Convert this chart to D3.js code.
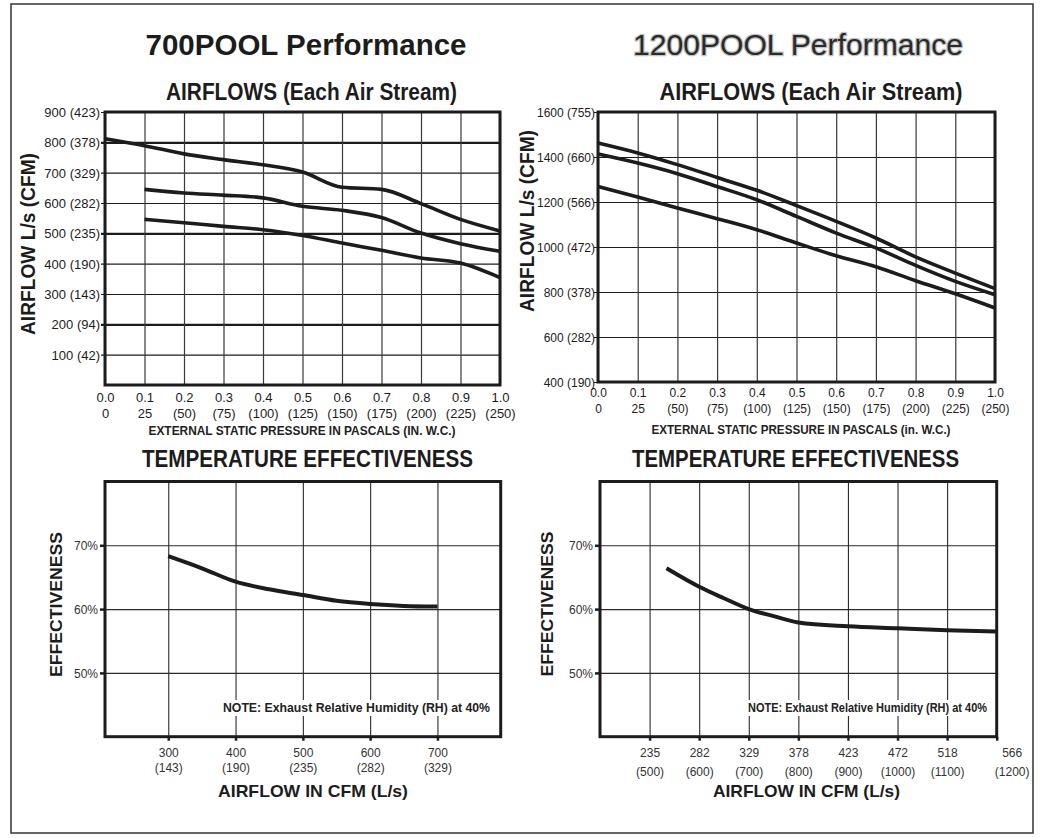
<!DOCTYPE html>
<html>
<head>
<meta charset="utf-8">
<script src="https://cdn.jsdelivr.net/npm/d3@7"></script>
<style>
  body { margin: 0; background: #fff; }
  svg { display: block; font-family: "Liberation Sans", Arial, Helvetica, sans-serif; }
</style>
</head>
<body>
<svg id="chart" width="1052" height="838"></svg>
<script>
// ---------------- data ----------------
// external static pressure (in. W.C.)
const pressure = [0, 0.1, 0.2, 0.3, 0.4, 0.5, 0.6, 0.7, 0.8, 0.9, 1.0];
const pressureLabels = ["0.0", "0.1", "0.2", "0.3", "0.4", "0.5", "0.6", "0.7", "0.8", "0.9", "1.0"];
const pascalLabels = ["0", "25", "(50)", "(75)", "(100)", "(125)", "(150)", "(175)", "(200)", "(225)", "(250)"];

// 700POOL airflows (CFM) - null where the curve has not started
const airflow700Ticks = [100, 200, 300, 400, 500, 600, 700, 800, 900];
const airflow700Labels = ["100 (42)", "200 (94)", "300 (143)", "400 (190)", "500 (235)", "600 (282)", "700 (329)", "800 (378)", "900 (423)"];
const airflow700Bold = [200, 500, 800];
const airflow700High = [812, 789, 762, 743, 726, 702, 652, 645, 598, 546, 508];
const airflow700Mid = [null, 645, 633, 626, 617, 589, 576, 552, 501, 466, 441];
const airflow700Low = [null, 546, 535, 523, 512, 493, 468, 444, 419, 402, 354];

// 1200POOL airflows (CFM)
const airflow1200Ticks = [400, 600, 800, 1000, 1200, 1400, 1600];
const airflow1200Labels = ["400 (190)", "600 (282)", "800 (378)", "1000 (472)", "1200 (566)", "1400 (660)", "1600 (755)"];
const airflow1200High = [1462, 1418, 1366, 1309, 1252, 1184, 1114, 1040, 956, 884, 815];
const airflow1200Mid = [1413, 1373, 1326, 1269, 1210, 1136, 1062, 996, 918, 847, 788];
const airflow1200Low = [1269, 1222, 1173, 1126, 1077, 1018, 961, 912, 850, 792, 729];

// effectiveness
const effTicks = [50, 60, 70];
const effLabels = ["50%", "60%", "70%"];

const cfm700Ticks = [300, 400, 500, 600, 700];
const cfm700Labels = ["300", "400", "500", "600", "700"];
const ls700Labels = ["(143)", "(190)", "(235)", "(282)", "(329)"];
const eff700Cfm = [300, 350, 400, 450, 500, 550, 600, 650, 700];
const eff700 = [68.3, 66.4, 64.3, 63.1, 62.2, 61.3, 60.8, 60.5, 60.4];

const cfm1200Ticks = [500, 600, 700, 800, 900, 1000, 1100, 1200];
const ls1200Labels = ["235", "282", "329", "378", "423", "472", "518", "566"];
const cfm1200Labels = ["(500)", "(600)", "(700)", "(800)", "(900)", "(1000)", "(1100)", "(1200)"];
const eff1200Cfm = [534, 600, 650, 700, 750, 800, 900, 1000, 1100, 1200];
const eff1200 = [66.4, 63.5, 61.7, 60.0, 58.9, 57.9, 57.3, 57.0, 56.7, 56.5];

// ---------------- drawing ----------------
const svg = d3.select("#chart");
const INK = "#1c1c1c";

function txt(g, x, y, s, o = {}) {
  const t = g.append("text").attr("x", x).attr("y", y).text(s)
    .attr("font-size", o.size || 12)
    .attr("font-weight", o.weight || "normal")
    .attr("text-anchor", o.anchor || "middle")
    .attr("dominant-baseline", o.baseline || "auto")
    .attr("fill", o.fill || INK);
  if (o.len) t.attr("textLength", o.len).attr("lengthAdjust", "spacingAndGlyphs");
  if (o.rotate) t.attr("transform", `rotate(-90,${x},${y})`);
  return t;
}

// outer border
svg.append("rect").attr("x", 11).attr("y", 4).attr("width", 1022).attr("height", 829)
  .attr("fill", "none").attr("stroke", "#333").attr("stroke-width", 1.5);

function airflowChart(o) {
  const w = o.right - o.left, h = o.bottom - o.top;
  const g = svg.append("g").attr("transform", `translate(${o.left},${o.top})`);
  const x = d3.scaleLinear().domain([0, 1]).range([0, w]);
  const y = d3.scaleLinear().domain(o.yDomain).range([h, 0]);

  const gy = g.append("g")
    .call(d3.axisLeft(y).tickValues(o.yTicks).tickSize(-w).tickPadding(o.pad).tickFormat((d, i) => o.yLabels[i]));
  gy.attr("font-family", null).attr("font-size", null);
  gy.select(".domain").remove();
  gy.selectAll("line").attr("x1", -4).attr("stroke", INK)
    .attr("stroke-width", d => (o.bold || []).includes(d) ? 2.2 : 1.2);
  gy.selectAll("text").attr("font-size", o.tickSize).attr("fill", INK).attr("dy", "0.35em");

  const gx = g.append("g").attr("transform", `translate(0,${h})`)
    .call(d3.axisBottom(x).tickValues(pressure).tickSize(-h).tickFormat(""));
  gx.attr("font-family", null).attr("font-size", null);
  gx.select(".domain").remove();
  gx.selectAll("line").attr("stroke", "#3a3a3a").attr("stroke-width", 1.2);
  gx.selectAll(".tick text").remove();
  gx.selectAll(".tick").append("text").attr("y", o.row1).attr("dy", "0.35em")
    .attr("font-size", o.tickSize).attr("fill", INK).attr("text-anchor", "middle")
    .text((d, i) => pressureLabels[i]);
  gx.selectAll(".tick").append("text").attr("y", o.row2).attr("dy", "0.35em")
    .attr("font-size", o.tickSize).attr("fill", INK).attr("text-anchor", "middle")
    .text((d, i) => pascalLabels[i]);

  const line = d3.line().defined(d => d[1] != null)
    .x(d => x(d[0])).y(d => y(d[1])).curve(d3.curveMonotoneX);
  o.series.forEach(s => {
    g.append("path").datum(pressure.map((p, i) => [p, s[i]])).attr("d", line)
      .attr("fill", "none").attr("stroke", INK).attr("stroke-width", 3.6)
      .attr("stroke-linejoin", "round");
  });

  g.append("rect").attr("width", w).attr("height", h)
    .attr("fill", "none").attr("stroke", INK).attr("stroke-width", 3);
}

function effChart(o) {
  const w = o.right - o.left, h = o.bottom - o.top;
  const g = svg.append("g").attr("transform", `translate(${o.left},${o.top})`);
  const x = d3.scaleLinear().domain(o.xDomain).range([0, w]);
  const y = d3.scaleLinear().domain([40, 80]).range([h, 0]);

  const gy = g.append("g")
    .call(d3.axisLeft(y).tickValues(effTicks).tickSize(-w).tickPadding(7).tickFormat((d, i) => effLabels[i]));
  gy.attr("font-family", null).attr("font-size", null);
  gy.select(".domain").remove();
  gy.selectAll("line").attr("stroke", "#2a2a2a").attr("stroke-width", 1.1);
  gy.selectAll(".tick").append("line").attr("x1", -5).attr("x2", 0)
    .attr("stroke", INK).attr("stroke-width", 2.5);
  gy.selectAll("text").attr("font-size", 12).attr("fill", "#333").attr("dy", "0.35em");

  const gx = g.append("g").attr("transform", `translate(0,${h})`)
    .call(d3.axisBottom(x).tickValues(o.xTicks).tickSize(-h).tickFormat(""));
  gx.attr("font-family", null).attr("font-size", null);
  gx.select(".domain").remove();
  gx.selectAll("line").attr("stroke", "#2a2a2a").attr("stroke-width", 1.1);
  gx.selectAll(".tick").append("line").attr("y1", 0).attr("y2", 4)
    .attr("stroke", INK).attr("stroke-width", 2.5);
  gx.selectAll(".tick text").remove();
  const last = o.xTicks.length - 1;
  [[o.row1, o.topLabels], [o.row2, o.botLabels]].forEach(([yy, labels]) => {
    gx.selectAll(".tick").append("text").attr("y", yy).attr("dy", "0.35em")
      .attr("dx", (d, i) => i === last ? o.lastDx : 0)
      .attr("font-size", 12).attr("fill", "#333").attr("text-anchor", "middle")
      .text((d, i) => labels[i]);
  });

  // note with white backing
  const note = "NOTE: Exhaust Relative Humidity (RH) at 40%";
  g.append("rect").attr("x", o.noteX - o.left - 2).attr("y", o.noteY - o.top - 8)
    .attr("width", o.noteLen + 4).attr("height", 16).attr("fill", "#fff");
  txt(g, o.noteX - o.left, o.noteY - o.top, note,
    { size: 13.5, weight: "bold", anchor: "start", baseline: "middle", len: o.noteLen, fill: "#222" });

  const line = d3.line().x(d => x(d[0])).y(d => y(d[1])).curve(d3.curveMonotoneX);
  g.append("path").datum(o.cfm.map((c, i) => [c, o.eff[i]])).attr("d", line)
    .attr("fill", "none").attr("stroke", INK).attr("stroke-width", 4);

  g.append("rect").attr("width", w).attr("height", h)
    .attr("fill", "none").attr("stroke", INK).attr("stroke-width", 3);
}

// ---- top-left: 700POOL airflows
airflowChart({
  left: 105, right: 500, top: 112, bottom: 385,
  yDomain: [0, 900], yTicks: airflow700Ticks, yLabels: airflow700Labels, bold: airflow700Bold,
  pad: 5, tickSize: 13, row1: 12, row2: 28,
  series: [airflow700High, airflow700Mid, airflow700Low]
});

// ---- top-right: 1200POOL airflows
airflowChart({
  left: 598, right: 995, top: 112, bottom: 382,
  yDomain: [400, 1600], yTicks: airflow1200Ticks, yLabels: airflow1200Labels,
  pad: 3, tickSize: 12, row1: 11, row2: 27,
  series: [airflow1200High, airflow1200Mid, airflow1200Low]
});

// ---- bottom-left: 700POOL effectiveness
effChart({
  left: 105, right: 500.7, top: 481.5, bottom: 736.7,
  xDomain: [206, 794], xTicks: cfm700Ticks, topLabels: cfm700Labels, botLabels: ls700Labels,
  row1: 16, row2: 31, lastDx: 0,
  cfm: eff700Cfm, eff: eff700,
  noteX: 223, noteY: 708, noteLen: 267
});

// ---- bottom-right: 1200POOL effectiveness
effChart({
  left: 600, right: 996.7, top: 481.5, bottom: 736.7,
  xDomain: [400, 1200], xTicks: cfm1200Ticks, topLabels: ls1200Labels, botLabels: cfm1200Labels,
  row1: 16, row2: 35, lastDx: 15,
  cfm: eff1200Cfm, eff: eff1200,
  noteX: 748, noteY: 708, noteLen: 239
});

// ---------------- titles & axis titles ----------------
txt(svg, 306, 55, "700POOL Performance", { size: 29, weight: "bold", len: 321 });
txt(svg, 798, 55, "1200POOL Performance", { size: 30, len: 330, fill: "#2a2a2a" })
  .attr("stroke", "#c2c2c2").attr("stroke-width", 2.5).attr("paint-order", "stroke")
  .attr("stroke-linejoin", "round");

txt(svg, 311.5, 100, "AIRFLOWS (Each Air Stream)", { size: 24, weight: "bold", len: 291 });
txt(svg, 811, 100, "AIRFLOWS (Each Air Stream)", { size: 24, weight: "bold", len: 303 });

txt(svg, 30, 244, "AIRFLOW L/s (CFM)", { size: 20, weight: "bold", baseline: "middle", len: 182, rotate: true });
txt(svg, 529, 221, "AIRFLOW L/s (CFM)", { size: 20, weight: "bold", baseline: "middle", len: 182, rotate: true });

txt(svg, 302, 432, "EXTERNAL STATIC PRESSURE IN PASCALS (IN. W.C.)", { size: 12.5, weight: "bold", baseline: "middle", len: 307, fill: "#222" });
txt(svg, 801, 431, "EXTERNAL STATIC PRESSURE IN PASCALS (in. W.C.)", { size: 12.5, weight: "bold", baseline: "middle", len: 299, fill: "#222" });

txt(svg, 307.5, 467, "TEMPERATURE EFFECTIVENESS", { size: 23, weight: "bold", len: 331 });
txt(svg, 795.5, 467, "TEMPERATURE EFFECTIVENESS", { size: 23, weight: "bold", len: 327 });

txt(svg, 58, 604.5, "EFFECTIVENESS", { size: 17, weight: "bold", baseline: "middle", len: 145, rotate: true });
txt(svg, 549, 604, "EFFECTIVENESS", { size: 17, weight: "bold", baseline: "middle", len: 145, rotate: true });

txt(svg, 313, 793, "AIRFLOW IN CFM (L/s)", { size: 17, weight: "bold", baseline: "middle", len: 190 });
txt(svg, 806.5, 793, "AIRFLOW IN CFM (L/s)", { size: 17, weight: "bold", baseline: "middle", len: 187 });
</script>
</body>
</html>
